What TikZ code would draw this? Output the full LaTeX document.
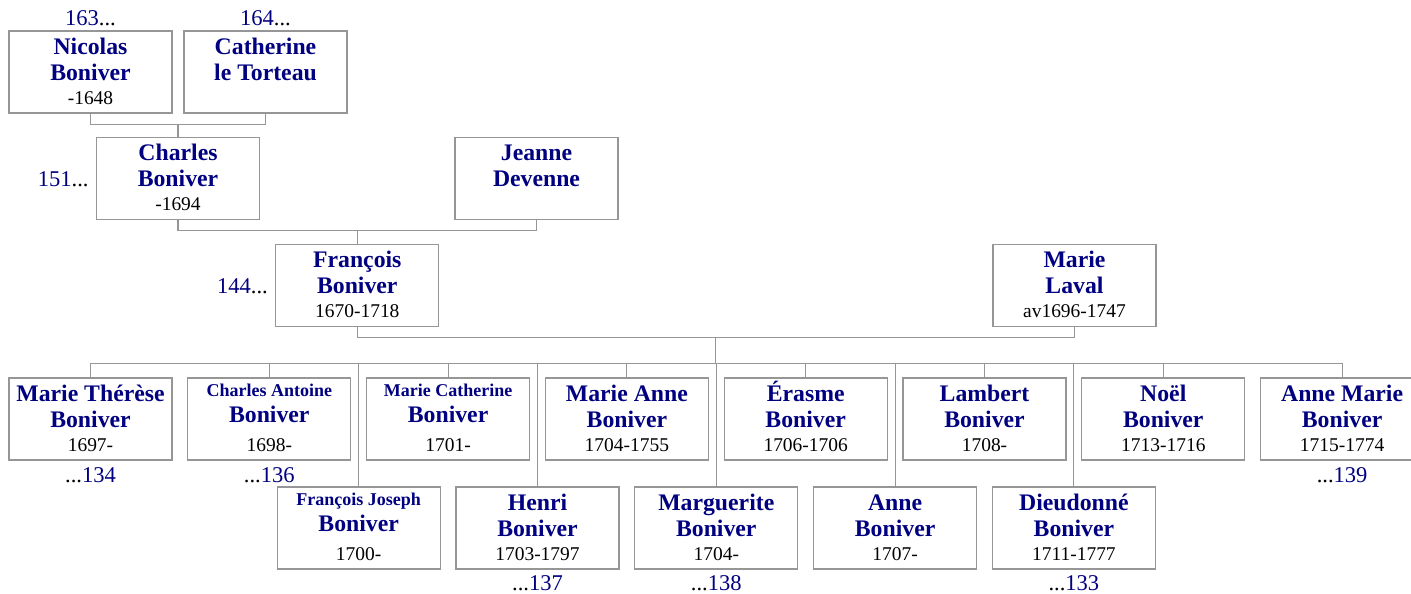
\documentclass[tikz,border=0pt]{standalone}
\usepackage{fontspec}
\setmainfont{Liberation Serif}
\usetikzlibrary{calc}
\definecolor{namecol}{RGB}{0,0,128}
\definecolor{boxgray}{RGB}{150,150,150}
\newcommand{\refnum}[1]{\textcolor{namecol}{#1}}
% box with a big first line
\newcommand{\person}[6]{%
  \node[pbox] (#1) at (#2,#3) {};
  \node[pname,anchor=base] (#1-f) at ($(#1.north)+(0,-24)$) {#4};
  \node[pname,anchor=base] (#1-s) at ($(#1.north)+(0,-50)$) {#5};
  \node[pdate,anchor=base] (#1-d) at ($(#1.north)+(0,-74)$) {#6};
}
% box with a small first line
\newcommand{\persons}[6]{%
  \node[pbox] (#1) at (#2,#3) {};
  \node[psmall,anchor=base] (#1-f) at ($(#1.north)+(0,-19)$) {#4};
  \node[pname,anchor=base] (#1-s) at ($(#1.north)+(0,-45)$) {#5};
  \node[pdate,anchor=base] (#1-d) at ($(#1.north)+(0,-74)$) {#6};
}
\begin{document}
\begin{tikzpicture}[x=0.75pt,y=0.75pt,
  pbox/.style={draw=boxgray,line width=1pt,inner sep=0pt,minimum width=122.25pt,minimum height=61.5pt},
  pname/.style={inner sep=0pt,text=namecol,font=\fontsize{17.8}{20}\selectfont\bfseries},
  psmall/.style={inner sep=0pt,text=namecol,font=\fontsize{13.5}{15}\selectfont\bfseries},
  pdate/.style={inner sep=0pt,font=\fontsize{14.6}{16}\selectfont},
  pref/.style={inner sep=0pt,font=\fontsize{16.9}{19}\selectfont},
  link/.style={draw=boxgray,line width=0.8pt}]
\useasboundingbox (0,0) rectangle (1411,-593);

% ancestors
\person{nicolas}{90.5}{-72}{Nicolas}{Boniver}{-1648}
\person{catherine}{265.5}{-72}{Catherine}{le Torteau}{}
\person{charles}{178}{-178.5}{Charles}{Boniver}{-1694}
\person{jeanne}{536.5}{-178.5}{Jeanne}{Devenne}{}
\person{francois}{357.3}{-285.5}{François}{Boniver}{1670-1718}
\person{marie}{1074.5}{-285.5}{Marie}{Laval}{av1696-1747}

% children, first row
\person{therese}{90.5}{-419}{Marie Thérèse}{Boniver}{1697-}
\persons{antoine}{269.3}{-419}{Charles Antoine}{Boniver}{1698-}
\persons{mcatherine}{448.1}{-419}{Marie Catherine}{Boniver}{1701-}
\person{marieanne}{626.9}{-419}{Marie Anne}{Boniver}{1704-1755}
\person{erasme}{805.7}{-419}{Érasme}{Boniver}{1706-1706}
\person{lambert}{984.5}{-419}{Lambert}{Boniver}{1708-}
\person{noel}{1163.3}{-419}{Noël}{Boniver}{1713-1716}
\person{annemarie}{1342.1}{-419}{Anne Marie}{Boniver}{1715-1774}

% children, second row
\persons{fjoseph}{358.7}{-528}{François Joseph}{Boniver}{1700-}
\person{henri}{537.5}{-528}{Henri}{Boniver}{1703-1797}
\person{marguerite}{716.3}{-528}{Marguerite}{Boniver}{1704-}
\person{anne}{895.1}{-528}{Anne}{Boniver}{1707-}
\person{dieudonne}{1073.9}{-528}{Dieudonné}{Boniver}{1711-1777}

% page references
\node[pref,anchor=base] (r-nicolas) at ($(nicolas.north)+(0,5)$) {\refnum{163}...};
\node[pref,anchor=base] (r-catherine) at ($(catherine.north)+(0,5)$) {\refnum{164}...};
\node[pref,anchor=base east] (r-charles) at ($(charles.west)+(-7,-7.5)$) {\refnum{151}...};
\node[pref,anchor=base east] (r-francois) at ($(francois.west)+(-7,-7.5)$) {\refnum{144}...};
\node[pref,anchor=base] (r-therese) at ($(therese.south)+(0,-22)$) {...\refnum{134}};
\node[pref,anchor=base] (r-antoine) at ($(antoine.south)+(0,-22)$) {...\refnum{136}};
\node[pref,anchor=base] (r-annemarie) at ($(annemarie.south)+(0,-22)$) {...\refnum{139}};
\node[pref,anchor=base] (r-henri) at ($(henri.south)+(0,-20.5)$) {...\refnum{137}};
\node[pref,anchor=base] (r-marguerite) at ($(marguerite.south)+(0,-20.5)$) {...\refnum{138}};
\node[pref,anchor=base] (r-dieudonne) at ($(dieudonne.south)+(0,-20.5)$) {...\refnum{133}};

% couples
\draw[link] (nicolas.south) -- ++(0,-11) -| (catherine.south);
\coordinate (c1) at ($(nicolas.south)!0.5!(catherine.south)+(0,-11)$);
\draw[link] (c1) -- (c1 |- charles.north);
\draw[link] (charles.south) -- ++(0,-10) -| (jeanne.south);
\coordinate (c2) at ($(charles.south)!0.5!(jeanne.south)+(0,-10)$);
\draw[link] (c2) -- (c2 |- francois.north);
\draw[link] (francois.south) -- ++(0,-10) -| (marie.south);
\coordinate (c3) at ($(francois.south)!0.5!(marie.south)+(0,-10)$);
\draw[link] (c3) -- ++(0,-26) coordinate (sibs);

% siblings
\draw[link] (therese.north |- sibs) -- (annemarie.north |- sibs);
\foreach \k in {therese,antoine,mcatherine,marieanne,erasme,lambert,noel,annemarie,fjoseph,henri,marguerite,anne,dieudonne}
  \draw[link] (\k.north) -- (\k.north |- sibs);
\end{tikzpicture}
\end{document}
